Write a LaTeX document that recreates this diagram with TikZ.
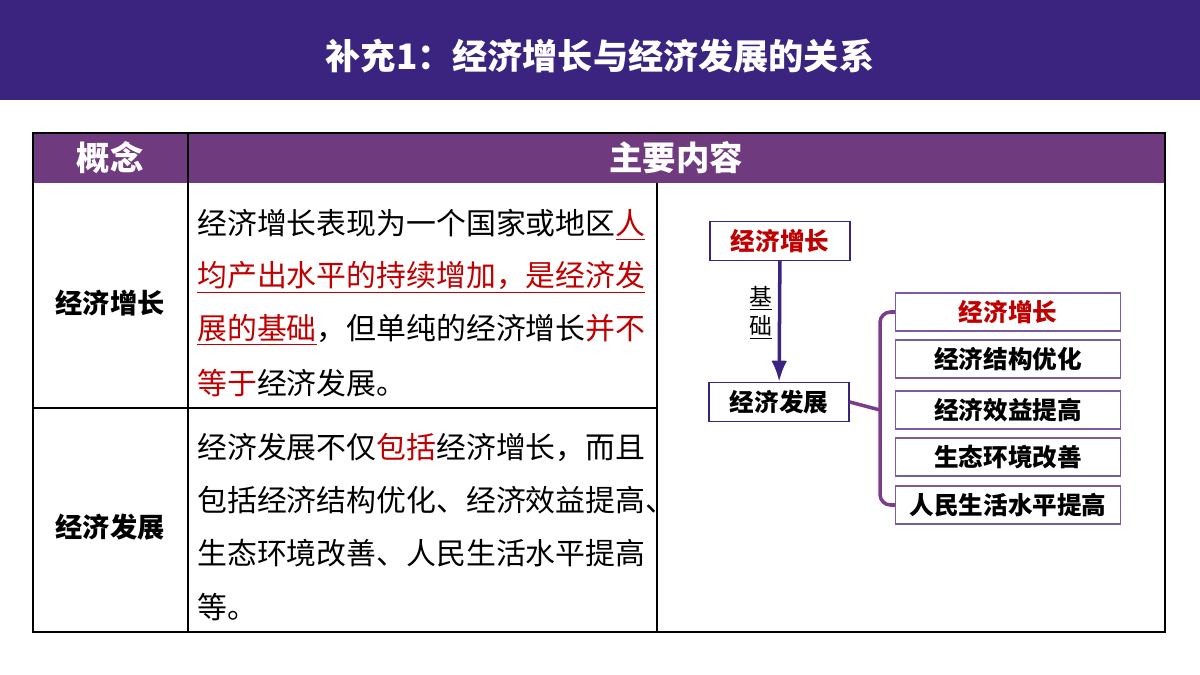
\documentclass[tikz,border=0pt]{standalone}
\usepackage{fontspec}
\setmainfont{Noto Sans CJK SC}
\usepackage{tikz}
\usetikzlibrary{arrows.meta}
\usetikzlibrary{calc}
\definecolor{banner}{HTML}{3A2480}
\definecolor{headrow}{HTML}{6F3A7E}
\definecolor{brace}{HTML}{7B3C8A}
\definecolor{boxline}{HTML}{7C5C9E}
\definecolor{hl}{HTML}{C00000}
\newcommand{\hilite}[1]{\textcolor{hl}{#1}}
\newcommand{\hiline}[1]{\textcolor{hl}{\underline{#1}}}
\begin{document}
\begin{tikzpicture}[x=0.02cm,y=-0.02cm,>/.tip={Latex},
  itembox/.style={draw=boxline,line width=0.8pt,minimum width=225*0.02cm,minimum height=38*0.02cm,inner sep=0pt,font=\bfseries\fontsize{14}{14}\selectfont},
  mainbox/.style={draw=banner,line width=0.8pt,minimum width=140*0.02cm,minimum height=39*0.02cm,inner sep=0pt,font=\bfseries\fontsize{14}{14}\selectfont},
  body/.style={anchor=west,inner sep=0pt,font=\fontsize{17}{17}\selectfont}]
\useasboundingbox (0,0) rectangle (1200,675);
\fill[banner] (0,0) rectangle (1200,100);
\node[text=white,font=\bfseries\fontsize{20}{20}\selectfont] (title) at (600,56) {补充1：经济增长与经济发展的关系};

% table
\fill[headrow] (33,133) rectangle (1165,183);
\draw[line width=0.6pt] (33,133) rectangle (1165,632);
\draw[line width=0.6pt] (188,133) -- (188,632);
\draw[line width=0.6pt] (657,183) -- (657,632);
\draw[line width=0.6pt] (33,408) -- (657,408);
\node[text=white,font=\bfseries\fontsize{19}{19}\selectfont] (h1) at (110,158) {概念};
\node[text=white,font=\bfseries\fontsize{19}{19}\selectfont] (h2) at (676,158) {主要内容};
\node[font=\bfseries\fontsize{15.5}{15.5}\selectfont] (c1) at (110,303) {经济增长};
\node[font=\bfseries\fontsize{15.5}{15.5}\selectfont] (c2) at (110,527) {经济发展};

\node[body] (r1a) at (197,225) {经济增长表现为一个国家或地区\hiline{人}};
\node[body] (r1b) at (197,277) {\hiline{均产出水平的持续增加，是经济发}};
\node[body] (r1c) at (197,330) {\hiline{展的基础}，但单纯的经济增长\hilite{并不}};
\node[body] (r1d) at (197,383) {\hilite{等于}经济发展。};
\node[body] (r2a) at (197,447) {经济发展不仅\hilite{包括}经济增长，而且};
\node[body] (r2b) at (197,500) {包括经济结构优化、经济效益提高、};
\node[body] (r2c) at (197,553) {生态环境改善、人民生活水平提高};
\node[body] (r2d) at (197,607) {等。};

% diagram
\node[mainbox,text=hl] (grow) at (780,241) {经济增长};
\node[mainbox] (dev) at (779,402) {经济发展};
\draw[->,banner,line width=2pt] (grow) -- (dev);
\node[font=\fontsize{13}{13}\selectfont,align=center,inner sep=0pt] (basis) at (761,313) {\underline{基}\\[2pt]\underline{础}};
\node[itembox,text=hl] (i1) at (1008,312) {经济增长};
\node[itembox] (i2) at (1008,359) {经济结构优化};
\node[itembox] (i3) at (1008,410) {经济效益提高};
\node[itembox] (i4) at (1008,457) {生态环境改善};
\node[itembox] (i5) at (1008,505) {人民生活水平提高};
\draw[brace,line width=2pt,rounded corners=6] (i1.west) -| (880,410) |- (i5.west);
\draw[brace,line width=2pt] (dev.east) -- (880,410);
\end{tikzpicture}
\end{document}
